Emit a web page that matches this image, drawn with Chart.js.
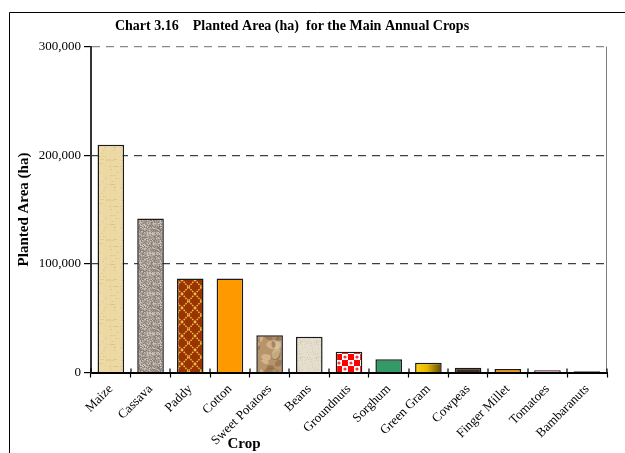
<!DOCTYPE html>
<html>
<head>
<meta charset="utf-8">
<script src="https://cdn.jsdelivr.net/npm/chart.js@4/dist/chart.umd.min.js"></script>
<style>
  html, body { margin: 0; padding: 0; background: #fff; }
  #wrap { width: 625px; height: 453px; }
</style>
</head>
<body>
<div id="wrap"><canvas id="c" width="625" height="453"></canvas></div>
<script>
// data
const crops = ["Maize", "Cassava", "Paddy", "Cotton", "Sweet Potatoes", "Beans", "Groundnuts",
  "Sorghum", "Green Gram", "Cowpeas", "Finger Millet", "Tomatoes", "Bambaranuts"];
const plantedArea = [209500, 141800, 86600, 86600, 34200, 32900, 19100,
  12100, 9000, 4400, 3200, 2000, 1100];
const chartTitle = "Chart 3.16    Planted Area (ha)  for the Main Annual Crops";
const yTitle = "Planted Area (ha)";
const xTitle = "Crop";

const canvas = document.getElementById("c");
const ctx = canvas.getContext("2d");
const serif = "'Liberation Serif', 'DejaVu Serif', serif";

// small deterministic hash for textures
function hash(x, y) {
  const s = Math.sin(x * 12.9898 + y * 78.233) * 43758.5453;
  return s - Math.floor(s);
}

function tile(w, h, draw) {
  const c = document.createElement("canvas");
  c.width = w; c.height = h;
  draw(c.getContext("2d"), w, h);
  return ctx.createPattern(c, "repeat");
}

const maizeFill = tile(24, 40, function (g, w, h) {
  g.fillStyle = "#ead59e"; g.fillRect(0, 0, w, h);
  for (let x = 0; x < w; x++) {
    const a = 0.08 + 0.12 * hash(x, 3);
    g.fillStyle = "rgba(255,245,210," + a + ")";
    g.fillRect(x, 0, 1, h);
  }
  for (let y = 0; y < h; y += 3) {
    for (let x = 0; x < w; x++) {
      if (hash(x, y) > 0.85) { g.fillStyle = "rgba(200,170,100,0.3)"; g.fillRect(x, y, 2, 1); }
    }
  }
});

const cassavaFill = tile(20, 20, function (g, w, h) {
  g.fillStyle = "#aa9f97"; g.fillRect(0, 0, w, h);
  for (let y = 0; y < h; y++) {
    for (let x = 0; x < w; x++) {
      const r = hash(x, y);
      if (r > 0.72) { g.fillStyle = "#8b7f77"; g.fillRect(x, y, 1, 1); }
      else if (r < 0.22) { g.fillStyle = "#cbc2ba"; g.fillRect(x, y, 1, 1); }
    }
  }
});

const paddyFill = tile(13, 14, function (g, w, h) {
  g.fillStyle = "#993300"; g.fillRect(0, 0, w, h);
  g.strokeStyle = "#eec24a"; g.lineWidth = 1.4;
  g.setLineDash([1.5, 1]);
  g.beginPath();
  g.moveTo(0, 0); g.lineTo(w, h);
  g.moveTo(w, 0); g.lineTo(0, h);
  g.stroke();
});

const potatoFill = tile(26, 36, function (g, w, h) {
  g.fillStyle = "#b8946a"; g.fillRect(0, 0, w, h);
  for (let i = 0; i < 14; i++) {
    const x = hash(i, 1) * w, y = hash(i, 2) * h, r = 3 + hash(i, 3) * 5;
    g.fillStyle = i % 2 ? "rgba(125,90,55,0.45)" : "rgba(230,205,170,0.55)";
    g.beginPath(); g.ellipse(x, y, r, r * 0.6, hash(i, 4) * 3, 0, Math.PI * 2); g.fill();
  }
});

const beansFill = tile(16, 16, function (g, w, h) {
  g.fillStyle = "#e5ddcd"; g.fillRect(0, 0, w, h);
  for (let y = 0; y < h; y++) {
    for (let x = 0; x < w; x++) {
      if (hash(x + 7, y) > 0.85) { g.fillStyle = "#d6cdb9"; g.fillRect(x, y, 1, 1); }
    }
  }
});

const groundnutFill = tile(12, 12, function (g, w, h) {
  g.fillStyle = "#ff0000"; g.fillRect(0, 0, w, h);
  g.fillStyle = "#ffffff";
  g.fillRect(0, 0, 6, 6); g.fillRect(6, 6, 6, 6);
  g.fillStyle = "#ff3030";
  g.beginPath(); g.arc(3, 3, 1.6, 0, Math.PI * 2); g.arc(9, 9, 1.6, 0, Math.PI * 2); g.fill();
});

function greenGramFill(context) {
  const chart = context.chart;
  const xs = chart.scales.x;
  if (!xs || !chart.chartArea) return "#d4a800";
  const cx = xs.getPixelForValue(context.dataIndex);
  const half = xs.width / crops.length * 0.67 / 2;
  const gr = chart.ctx.createLinearGradient(cx - half, 0, cx + half, 0);
  gr.addColorStop(0, "#ffd500");
  gr.addColorStop(0.45, "#e6b800");
  gr.addColorStop(1, "#5e4700");
  return gr;
}

const fills = [maizeFill, cassavaFill, paddyFill, "#ff9900", potatoFill, beansFill, groundnutFill,
  "#339966", null, "#3e2c1c", "#ff9900", "#d98fb5", "#1c1c1c"];

const frame = {
  id: "frame",
  beforeDraw(chart) {
    const c = chart.ctx;
    c.save();
    c.fillStyle = "#fff";
    c.fillRect(0, 0, chart.width, chart.height);
    c.restore();
  },
  afterDraw(chart) {
    const c = chart.ctx;
    const a = chart.chartArea;
    const xs = chart.scales.x;
    c.save();
    // outer border
    c.strokeStyle = "#000"; c.lineWidth = 1;
    c.beginPath();
    c.moveTo(9.5, 460); c.lineTo(9.5, 12.5); c.lineTo(630, 12.5);
    c.stroke();
    // right edge of plot
    c.strokeStyle = "#808080";
    c.beginPath();
    c.moveTo(a.right - 0.5, a.top); c.lineTo(a.right - 0.5, a.bottom);
    c.stroke();
    // category tick marks poke a little above the axis
    c.strokeStyle = "#000"; c.lineWidth = 1.2;
    c.beginPath();
    for (let i = 0; i <= crops.length; i++) {
      const px = Math.round(xs.left + xs.width * i / crops.length);
      c.moveTo(px, a.bottom); c.lineTo(px, a.bottom - 4);
    }
    c.stroke();
    // title
    c.fillStyle = "#000";
    c.font = "bold 14px " + serif;
    c.textAlign = "center"; c.textBaseline = "middle";
    c.fillText(chartTitle, 292, 26);
    // x title
    c.font = "bold 15px " + serif;
    c.fillText(xTitle, 244, 444);
    c.restore();
  }
};

new Chart(canvas, {
  type: "bar",
  data: {
    labels: crops,
    datasets: [{
      data: plantedArea,
      backgroundColor: function (context) {
        const f = fills[context.dataIndex];
        return f === null ? greenGramFill(context) : f;
      },
      borderColor: "#1a1a1a",
      borderWidth: 1.5,
      barPercentage: 0.67,
      categoryPercentage: 1
    }]
  },
  plugins: [frame],
  options: {
    responsive: false,
    animation: false,
    devicePixelRatio: 1,
    layout: { padding: { left: 0, top: 46.5, right: 18, bottom: 0 } },
    plugins: {
      legend: { display: false },
      title: { display: false },
      tooltip: { enabled: false }
    },
    scales: {
      x: {
        afterFit(scale) { scale.height = 80.5; },
        grid: {
          drawOnChartArea: false,
          drawTicks: true,
          tickLength: 5,
          tickColor: "#000",
          tickWidth: 1.2
        },
        border: { display: true, color: "#000", width: 2 },
        ticks: {
          autoSkip: false,
          minRotation: 45,
          maxRotation: 45,
          padding: 4,
          color: "#000",
          font: { family: serif, size: 13 }
        }
      },
      y: {
        min: 0,
        max: 300000,
        afterFit(scale) { scale.width = 91; },
        grid: {
          color: function (context) { return context.tick.value === 300000 ? "#8a8a8a" : "#404040"; },
          lineWidth: 1.2,
          drawTicks: true,
          tickLength: 7,
          tickColor: "#000",
          tickWidth: 1.2
        },
        border: { display: true, color: "#333", width: 2, dash: [8, 6] },
        ticks: {
          stepSize: 100000,
          padding: 3,
          color: "#000",
          font: { family: serif, size: 13 },
          callback: function (v) { return v.toLocaleString("en-US"); }
        },
        title: {
          display: true,
          text: yTitle,
          color: "#000",
          font: { family: serif, size: 15, weight: "bold" },
          padding: { top: 15, bottom: 0 }
        }
      }
    }
  }
});
</script>
</body>
</html>
